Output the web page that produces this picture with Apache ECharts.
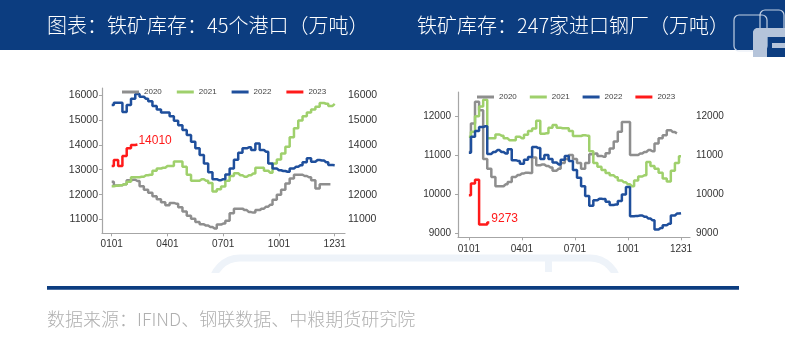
<!DOCTYPE html>
<html><head><meta charset="utf-8">
<script src="https://cdn.jsdelivr.net/npm/echarts@6/dist/echarts.min.js"></script>
<style>html,body{margin:0;padding:0;background:#fff;}#c{width:785px;height:340px;}</style>
</head><body><div id="c"></div>
<script>
// ---- data ----
const years = ['2020', '2021', '2022', '2023'];
const xTickWeeks = [0, 13, 26, 39, 52];
const xTickLabels = ['0101', '0401', '0701', '1001', '1231'];
const portTicks = [11000, 12000, 13000, 14000, 15000, 16000];
const millTicks = [9000, 10000, 11000, 12000];

// 45 ports iron ore inventory (weekly, 10k t)
const port2020 = [12520, 12370, 12380, 12420, 12580, 12600, 12550, 12340, 12200, 12080, 11940, 11820, 11700, 11580, 11670, 11640, 11500, 11320, 11150, 11030, 10900, 10810, 10760, 10700, 10640, 10800, 10840, 10950, 11250, 11440, 11440, 11380, 11300, 11280, 11380, 11440, 11520, 11600, 11800, 12000, 12200, 12450, 12650, 12800, 12800, 12750, 12700, 12580, 12250, 12420, 12420, 12420];
const port2021 = [12340, 12360, 12380, 12420, 12520, 12700, 12700, 12720, 12780, 12800, 12960, 13050, 13080, 13150, 13150, 13330, 13330, 13120, 12800, 12560, 12560, 12620, 12560, 12470, 12130, 12220, 12330, 12560, 12750, 12860, 12780, 12720, 12780, 12850, 13080, 13080, 12960, 12880, 13250, 13410, 13650, 13920, 14300, 14660, 14980, 15150, 15300, 15420, 15530, 15680, 15650, 15560, 15640];
const port2022 = [15600, 15690, 15690, 15320, 15600, 15850, 16040, 15930, 15850, 15750, 15560, 15420, 15300, 15300, 15150, 14970, 14790, 14590, 14390, 14120, 13860, 13590, 13250, 12900, 12620, 12580, 12620, 12810, 13050, 13400, 13680, 13860, 13900, 13790, 14050, 13790, 13720, 13250, 13050, 12980, 12950, 12920, 13050, 13120, 13180, 13300, 13460, 13320, 13390, 13370, 13300, 13190, 13180];
const port2023 = [13150, 13390, 13150, 13550, 13860, 13990, 14010];

// 247 steel mills imported iron ore inventory (weekly, 10k t)
const mill2020 = [11080, 11810, 12370, 12150, 10900, 10650, 10440, 10200, 10200, 10250, 10310, 10440, 10490, 10530, 10550, 10540, 10940, 10740, 10760, 10720, 10680, 10600, 10650, 10800, 10900, 11000, 10900, 10800, 10650, 10800, 11020, 11040, 10980, 10960, 11050, 11170, 11350, 11600, 11850, 11850, 11000, 11000, 11040, 11080, 11130, 11100, 11300, 11430, 11510, 11640, 11590, 11560];
const mill2021 = [11470, 11600, 12000, 12250, 12420, 11430, 11430, 11530, 11500, 11430, 11380, 11380, 11470, 11430, 11520, 11620, 11680, 11880, 11550, 11560, 11700, 11770, 11700, 11690, 11690, 11620, 11490, 11490, 11510, 11500, 11100, 10800, 10700, 10620, 10540, 10480, 10430, 10350, 10300, 10250, 10200, 10350, 10450, 10480, 10820, 10720, 10650, 10550, 10400, 10320, 10600, 10800, 10970];
const mill2022 = [11060, 11470, 11620, 11720, 11740, 11030, 11080, 11130, 11080, 11040, 11150, 10870, 10850, 10780, 10880, 10950, 11210, 11180, 10900, 11000, 10900, 10810, 10760, 10880, 10980, 10850, 10620, 10420, 10200, 9950, 9700, 9840, 9880, 9870, 9800, 9720, 9730, 9820, 9990, 10180, 9430, 9440, 9450, 9420, 9370, 9330, 9090, 9130, 9200, 9240, 9450, 9500, 9510];
const mill2023 = [9970, 10270, 10370, 9220, 9220, 9273];

const titleLeft = '图表：铁矿库存：45个港口（万吨）';
const titleRight = '铁矿库存：247家进口钢厂（万吨）';
const sourceText = '数据来源：IFIND、钢联数据、中粮期货研究院';

// ---- chart ----
const colors = {'2020': '#8e8e8e', '2021': '#9fd06c', '2022': '#1f4f9c', '2023': '#ff1a1a'};
const NAVY = '#0c3d80';
const FONT = 'Liberation Sans, Arial, sans-serif';
const CJK = '"Noto Sans CJK SC", sans-serif';
const toPairs = arr => arr.map((v, i) => [i, v]);

function mkSeries(arrs, gi, labelOffset, labelDist) {
  return years.map((y, k) => {
    const s = {
      name: y, type: 'line', xAxisIndex: gi, yAxisIndex: gi * 2,
      step: 'middle', showSymbol: false, symbol: 'none',
      data: toPairs(arrs[k]),
      lineStyle: {width: 2.5, color: colors[y]},
      itemStyle: {color: colors[y]},
      emphasis: {disabled: true},
      animation: false
    };
    if (k === 3) {
      s.endLabel = {show: true, formatter: p => String(p.value[1]), color: colors[y],
        fontSize: 12, fontFamily: FONT, distance: labelDist, offset: labelOffset};
    }
    return s;
  });
}

function xAx(gi, min, max, margin, fs) {
  return {
    type: 'value', gridIndex: gi, min: min, max: max,
    splitLine: {show: false},
    axisLine: {show: true, onZero: false, lineStyle: {color: '#a6a6a6', width: 1.2}},
    axisTick: {show: true, length: 3, customValues: xTickWeeks, lineStyle: {color: '#a6a6a6'}},
    axisLabel: {customValues: xTickWeeks, formatter: v => xTickLabels[xTickWeeks.indexOf(v)],
      margin: margin, fontSize: fs, color: '#333', fontFamily: FONT}
  };
}
function yAx(gi, min, max, ticks, pos, margin, fs, showLine) {
  return {
    type: 'value', gridIndex: gi, min: min, max: max, position: pos,
    splitLine: {show: false},
    axisLine: {show: showLine, onZero: false, lineStyle: {color: '#a6a6a6', width: 1.2}},
    axisTick: {show: showLine, length: 3, customValues: ticks, lineStyle: {color: '#a6a6a6'}},
    axisLabel: {customValues: ticks, formatter: v => String(v), margin: margin, fontSize: fs, color: '#333', fontFamily: FONT}
  };
}
function legend(left, top, gap) {
  return {left: left, top: top, itemWidth: 17, itemHeight: 3, itemGap: gap, icon: 'rect',
    selectedMode: false, data: years,
    textStyle: {fontSize: 8, color: '#444', fontFamily: FONT}};
}

const chart = echarts.init(document.getElementById('c'), null, {renderer: 'canvas', width: 785, height: 340});
chart.setOption({
  backgroundColor: '#ffffff',
  animation: false,
  grid: [
    {left: 102, top: 88, width: 243, height: 145.3},
    {left: 458, top: 92, width: 232, height: 145.3}
  ],
  xAxis: [xAx(0, -2.26, 54.4, 6, 10), xAx(1, -2.67, 54.2, 7, 10)],
  yAxis: [
    yAx(0, 10450, 16280, portTicks, 'left', 4, 10.5, true),
    yAx(0, 10450, 16280, portTicks, 'right', 3, 10.5, false),
    yAx(1, 8890, 12620, millTicks, 'left', 7, 10, true),
    yAx(1, 8890, 12620, millTicks, 'right', 6, 10, false)
  ],
  legend: [legend(117, 83, 15), legend(472, 88, 13)],
  series: [].concat(
    mkSeries([port2020, port2021, port2022, port2023], 0, [0, -4], 1),
    mkSeries([mill2020, mill2021, mill2022, mill2023], 1, [0, -4], 2)
  ),
  graphic: [
    {type: 'rect', z: 0, shape: {x: 0, y: 0, width: 785, height: 50}, style: {fill: NAVY}},
    {type: 'text', z: 2, x: 47, y: 25, style: {text: titleLeft, fill: '#ffffff', font: '300 20px ' + CJK, textVerticalAlign: 'middle'}},
    {type: 'text', z: 2, x: 417, y: 25, style: {text: titleRight, fill: '#ffffff', font: '300 20px ' + CJK, textVerticalAlign: 'middle'}},
    // logo
    {type: 'rect', z: 1, shape: {x: 767, y: 44, width: 18, height: 13}, style: {fill: NAVY}},
    {type: 'rect', z: 2, shape: {x: 734, y: 15, width: 33, height: 36, r: 5}, style: {fill: 'none', stroke: 'rgba(225,233,244,0.85)', lineWidth: 1.2}},
    {type: 'rect', z: 2, shape: {x: 760, y: 10, width: 24, height: 25, r: 5}, style: {fill: 'none', stroke: 'rgba(225,233,244,0.85)', lineWidth: 1.2}},
    {type: 'rect', z: 3, shape: {x: 753, y: 28, width: 32, height: 9, r: [5, 0, 0, 0]}, style: {fill: '#b5c4da'}},
    {type: 'rect', z: 3, shape: {x: 753, y: 28, width: 14, height: 29, r: [5, 0, 0, 0]}, style: {fill: '#b5c4da'}},
    {type: 'rect', z: 3, shape: {x: 772, y: 43, width: 13, height: 5}, style: {fill: '#b5c4da'}},
    // faint watermark arc
    {type: 'rect', z: 0, shape: {x: 212, y: 258, width: 406, height: 60, r: 28}, style: {fill: 'none', stroke: '#eef3f9', lineWidth: 7}},
    {type: 'rect', z: 0, shape: {x: 545, y: 256, width: 7, height: 16}, style: {fill: '#eef3f9'}},
    {type: 'rect', z: 1, shape: {x: 200, y: 273, width: 430, height: 67}, style: {fill: '#ffffff'}},
    // footer
    {type: 'rect', z: 2, shape: {x: 47, y: 286, width: 692, height: 3.7}, style: {fill: NAVY}},
    {type: 'text', z: 2, x: 47, y: 319, style: {text: sourceText, fill: '#b0b0b0', font: '300 18px ' + CJK, textVerticalAlign: 'middle'}}
  ]
});
</script>
</body></html>
